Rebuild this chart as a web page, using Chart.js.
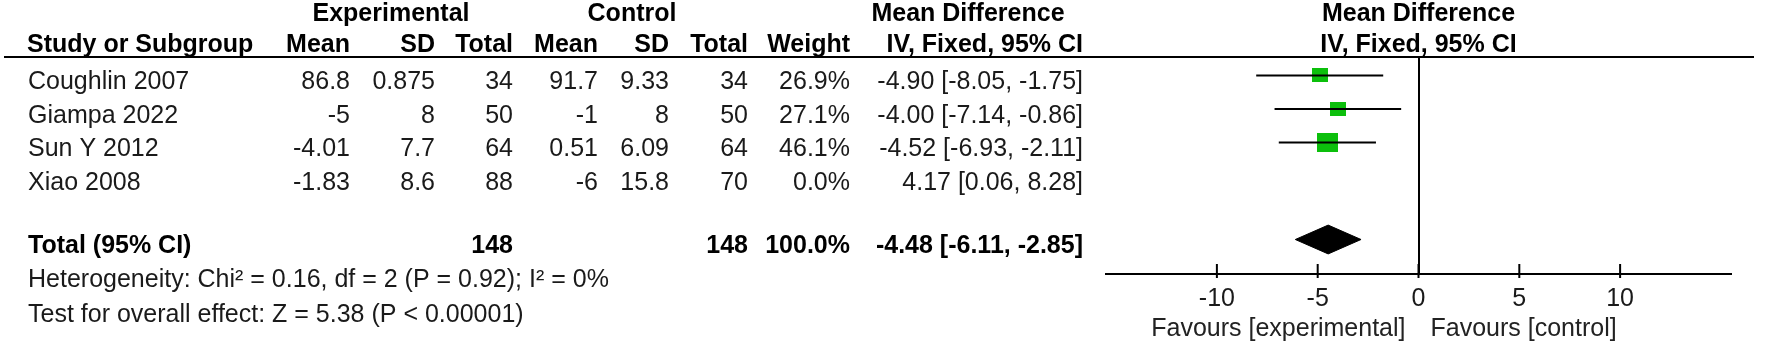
<!DOCTYPE html>
<html>
<head>
<meta charset="utf-8">
<script src="https://cdn.jsdelivr.net/npm/chart.js@4.4.1/dist/chart.umd.min.js"></script>
<style>
  html, body { margin: 0; padding: 0; background: #fff; }
  #wrap { width: 1772px; height: 358px; position: relative; }
</style>
</head>
<body>
<div id="wrap"><canvas id="forest"></canvas></div>
<script>
// --- DATA ---
const studies = ["Coughlin 2007", "Giampa 2022", "Sun Y 2012", "Xiao 2008"];
const expMean = ["86.8", "-5", "-4.01", "-1.83"];
const expSD = ["0.875", "8", "7.7", "8.6"];
const expTotal = [34, 50, 64, 88];
const ctlMean = ["91.7", "-1", "0.51", "-6"];
const ctlSD = ["9.33", "8", "6.09", "15.8"];
const ctlTotal = [34, 50, 64, 70];
const weights = [26.9, 27.1, 46.1, 0.0];
const meanDiff = [-4.90, -4.00, -4.52, 4.17];
const ciLow = [-8.05, -7.14, -6.93, 0.06];
const ciHigh = [-1.75, -0.86, -2.11, 8.28];

const pooledMD = -4.48;
const pooledLow = -6.11;
const pooledHigh = -2.85;
const totalExp = 148;
const totalCtl = 148;
const totalWeight = 100.0;

const heterogeneity = "Heterogeneity: Chi\u00B2 = 0.16, df = 2 (P = 0.92); I\u00B2 = 0%";
const overallEffect = "Test for overall effect: Z = 5.38 (P < 0.00001)";
const xTicks = [-10, -5, 0, 5, 10];
const favours = ["Favours [experimental]", "Favours [control]"];

// --- LAYOUT ---
const FONT = '"Liberation Sans", Arial, sans-serif';
const FONT_SIZE = 25;
const GREEN = '#0cbf0c';
const colRight = [350, 435, 513, 598, 669, 748, 850, 1083];
const studyRows = studies.map((s, i) => i + 1);
const totalRow = 5.9, hetRow = 6.9, testRow = 7.95;
const TEXT_DY = 7;

function fmt(v) { return v.toFixed(2); }
function ciText(m, lo, hi) { return `${fmt(m)} [${fmt(lo)}, ${fmt(hi)}]`; }

function drawText(ctx, text, x, y, align, bold, color) {
    ctx.save();
    ctx.font = (bold ? 'bold ' : '') + FONT_SIZE + 'px ' + FONT;
    ctx.fillStyle = color || (bold ? '#000' : '#1a1a1a');
    ctx.textAlign = align;
    ctx.textBaseline = 'middle';
    ctx.fillText(text, x, y);
    ctx.restore();
}

function makeSquare(w) {
    const h = 2.75 * Math.sqrt(w);
    const c = document.createElement('canvas');
    c.width = Math.round(h * 1.1);
    c.height = Math.round(h);
    const g = c.getContext('2d');
    g.fillStyle = GREEN;
    g.fillRect(0, 0, c.width, c.height);
    return c;
}

const shown = studies.map((s, i) => i).filter(i => weights[i] > 0);

const datasets = [];
shown.forEach(i => {
    datasets.push({
        data: [{ x: ciLow[i], y: studyRows[i] }, { x: ciHigh[i], y: studyRows[i] }],
        showLine: true, borderColor: '#000', borderWidth: 2, pointRadius: 0
    });
});
datasets.push({
    data: shown.map(i => ({ x: meanDiff[i], y: studyRows[i] })),
    pointStyle: shown.map(i => makeSquare(weights[i])),
    pointRadius: 10
});
const dh = 0.43;
datasets.push({
    data: [
        { x: pooledLow, y: totalRow }, { x: pooledMD, y: totalRow - dh },
        { x: pooledHigh, y: totalRow }, { x: pooledMD, y: totalRow + dh },
        { x: pooledLow, y: totalRow }
    ],
    showLine: true, fill: 'shape', backgroundColor: '#000', borderColor: '#000',
    borderWidth: 1, pointRadius: 0, tension: 0
});

const tablePlugin = {
    id: 'forestTable',
    afterDraw(chart) {
        const ctx = chart.ctx;
        const xs = chart.scales.x, ys = chart.scales.y;
        const zero = xs.getPixelForValue(0);
        const top = chart.chartArea.top;
        const axisY = chart.chartArea.bottom;

        // header rule
        ctx.save();
        ctx.strokeStyle = '#000';
        ctx.lineWidth = 2;
        ctx.beginPath();
        ctx.moveTo(4, top);
        ctx.lineTo(1754, top);
        ctx.stroke();
        // tick marks crossing the axis
        xs.ticks.forEach(t => {
            const px = xs.getPixelForValue(t.value);
            ctx.beginPath();
            ctx.moveTo(px, axisY - 10);
            ctx.lineTo(px, axisY + 4);
            ctx.stroke();
        });
        ctx.restore();

        // headers
        drawText(ctx, "Experimental", 391, 14, 'center', true);
        drawText(ctx, "Control", 632, 14, 'center', true);
        drawText(ctx, "Mean Difference", 968, 14, 'center', true);
        drawText(ctx, "Mean Difference", zero, 14, 'center', true);
        drawText(ctx, "Study or Subgroup", 27, 45, 'left', true);
        const heads = ["Mean", "SD", "Total", "Mean", "SD", "Total", "Weight", "IV, Fixed, 95% CI"];
        heads.forEach((h, k) => drawText(ctx, h, colRight[k], 45, 'right', true));
        drawText(ctx, "IV, Fixed, 95% CI", zero, 45, 'center', true);

        // study rows
        studies.forEach((s, i) => {
            const y = ys.getPixelForValue(studyRows[i]) + TEXT_DY;
            const cells = [expMean[i], expSD[i], String(expTotal[i]), ctlMean[i], ctlSD[i],
                String(ctlTotal[i]), weights[i].toFixed(1) + '%', ciText(meanDiff[i], ciLow[i], ciHigh[i])];
            drawText(ctx, s, 28, y, 'left', false);
            cells.forEach((c, k) => drawText(ctx, c, colRight[k], y, 'right', false));
        });

        // total row
        const ty = ys.getPixelForValue(totalRow) + TEXT_DY;
        drawText(ctx, "Total (95% CI)", 28, ty, 'left', true);
        drawText(ctx, String(totalExp), colRight[2], ty, 'right', true);
        drawText(ctx, String(totalCtl), colRight[5], ty, 'right', true);
        drawText(ctx, totalWeight.toFixed(1) + '%', colRight[6], ty, 'right', true);
        drawText(ctx, ciText(pooledMD, pooledLow, pooledHigh), colRight[7], ty, 'right', true);

        drawText(ctx, heterogeneity, 28, ys.getPixelForValue(hetRow) + TEXT_DY, 'left', false);
        drawText(ctx, overallEffect, 28, ys.getPixelForValue(testRow) + TEXT_DY, 'left', false);

        // favours labels
        drawText(ctx, favours[0], zero - 13, axisY + 55, 'right', false, '#222');
        drawText(ctx, favours[1], zero + 12, axisY + 55, 'left', false, '#222');
    }
};

new Chart(document.getElementById('forest'), {
    type: 'scatter',
    data: { datasets },
    options: {
        responsive: true,
        maintainAspectRatio: false,
        animation: false,
        layout: { padding: { left: 1106, right: 41, top: 57, bottom: 44 } },
        plugins: { legend: { display: false }, tooltip: { enabled: false } },
        scales: {
            x: {
                type: 'linear', min: -15.5, max: 15.5,
                afterBuildTicks: s => { s.ticks = xTicks.map(v => ({ value: v })); },
                afterFit: s => { s.height = 40; },
                grid: {
                    drawTicks: false,
                    lineWidth: 2,
                    color: c => (c.tick && c.tick.value === 0) ? '#000' : 'rgba(0,0,0,0)'
                },
                border: { display: true, color: '#000', width: 2 },
                ticks: { padding: 10, maxRotation: 0, color: '#1a1a1a', font: { size: FONT_SIZE, family: FONT } }
            },
            y: { type: 'linear', reverse: true, min: 0.45, max: 6.93, display: false }
        }
    },
    plugins: [tablePlugin]
});
</script>
</body>
</html>
